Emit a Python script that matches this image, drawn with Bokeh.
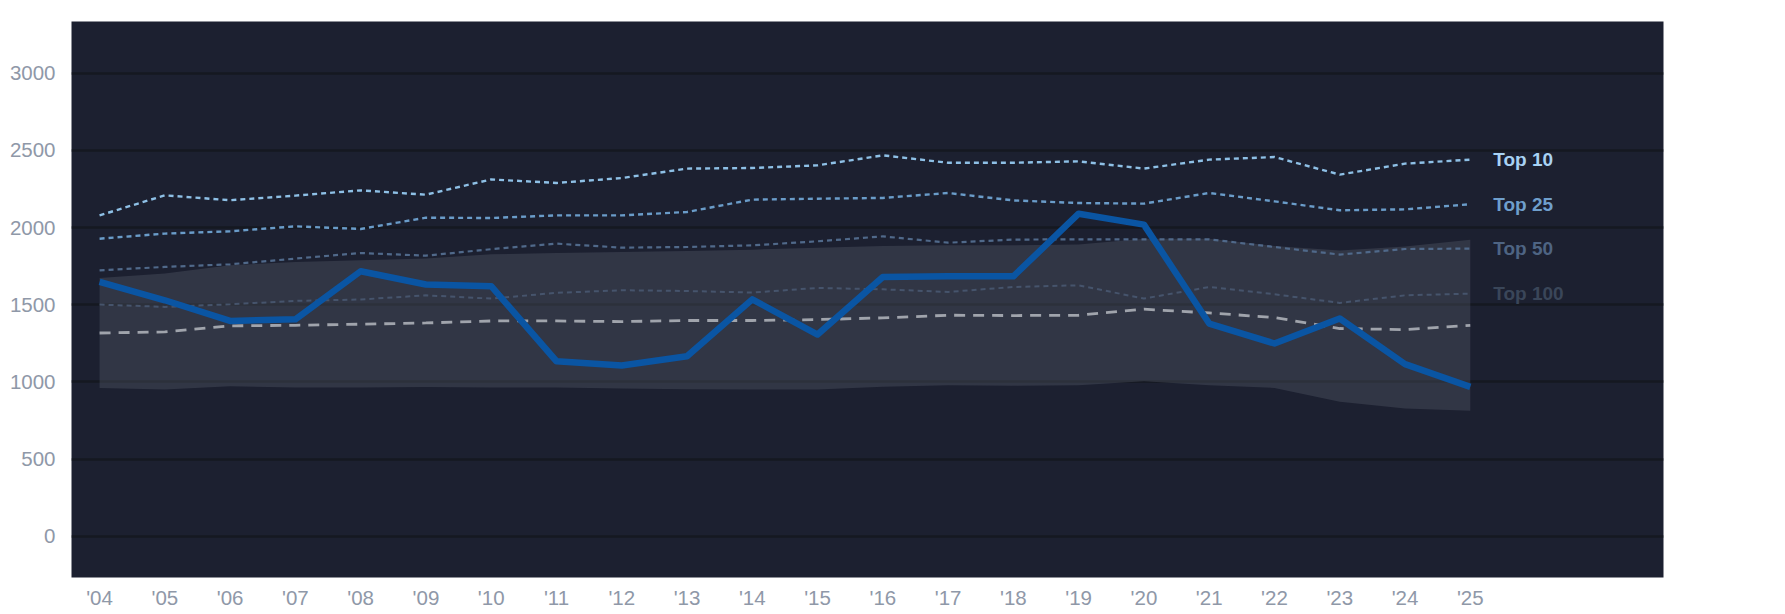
from bokeh.plotting import figure
from bokeh.models import FixedTicker, Range1d
from bokeh.core.properties import value
from bokeh.embed import file_html
from bokeh.resources import INLINE

years = list(range(2004, 2026))
tick_labels = ["'04", "'05", "'06", "'07", "'08", "'09", "'10", "'11", "'12", "'13", "'14",
               "'15", "'16", "'17", "'18", "'19", "'20", "'21", "'22", "'23", "'24", "'25"]

top10 = [2079, 2209, 2177, 2207, 2241, 2213, 2312, 2289, 2321, 2382, 2386,
         2403, 2468, 2420, 2420, 2429, 2382, 2440, 2457, 2343, 2414, 2440]
top25 = [1928, 1961, 1976, 2008, 1991, 2064, 2062, 2079, 2079, 2101, 2181,
         2187, 2192, 2224, 2176, 2159, 2155, 2224, 2170, 2112, 2118, 2151]
top50 = [1723, 1745, 1762, 1799, 1835, 1818, 1860, 1896, 1870, 1874, 1885,
         1911, 1943, 1902, 1922, 1924, 1924, 1924, 1874, 1825, 1861, 1864]
top100 = [1501, 1486, 1503, 1525, 1534, 1561, 1540, 1577, 1594, 1589, 1579,
          1609, 1600, 1583, 1615, 1626, 1540, 1615, 1568, 1512, 1561, 1572]
median = [1317, 1324, 1363, 1367, 1374, 1382, 1395, 1395, 1391, 1398, 1398,
          1404, 1415, 1432, 1430, 1432, 1471, 1447, 1417, 1346, 1339, 1367]
main = [1648, 1529, 1395, 1406, 1717, 1631, 1620, 1134, 1106, 1166, 1535,
        1307, 1680, 1684, 1684, 2090, 2019, 1378, 1249, 1411, 1115, 968]
band_hi = [1674, 1702, 1756, 1777, 1788, 1799, 1827, 1835, 1842, 1848, 1857,
           1870, 1881, 1885, 1885, 1890, 1928, 1928, 1880, 1851, 1877, 1921]
band_lo = [961, 951, 972, 964, 964, 967, 964, 964, 957, 953, 951,
           951, 968, 979, 975, 979, 1005, 979, 961, 871, 828, 813]

y_ticks = [0, 500, 1000, 1500, 2000, 2500, 3000]
label_names = ["Top 10", "Top 25", "Top 50", "Top 100"]

p = figure(frame_width=1592, frame_height=556,
           x_range=Range1d(2004 - 0.43, 2004 + 23.96),
           y_range=Range1d(-267, 3335),
           output_backend="svg", toolbar_location=None,
           min_border_left=71, min_border_top=21, min_border_right=106,
           min_border_bottom=5)

p.background_fill_color = "#1c2030"
p.border_fill_color = "#ffffff"
p.outline_line_color = None

p.xgrid.grid_line_color = None
p.ygrid.grid_line_color = "#151821"
p.ygrid.grid_line_width = 2.5
p.ygrid.ticker = FixedTicker(ticks=y_ticks)

p.yaxis.ticker = FixedTicker(ticks=y_ticks)
p.xaxis.ticker = FixedTicker(ticks=years)
p.xaxis.major_label_overrides = {y: lab for y, lab in zip(years, tick_labels)}
for ax in (p.xaxis, p.yaxis):
    ax.axis_line_color = None
    ax.major_tick_line_color = None
    ax.minor_tick_line_color = None
    ax.major_label_text_color = "#8f98a8"
    ax.major_label_text_font = "Liberation Sans"
    ax.major_label_text_font_size = "20.5px"
p.yaxis.major_label_standoff = 10
p.xaxis.major_label_standoff = 2

# band
p.varea(x=years, y1=band_lo, y2=band_hi, fill_color="#5a6070", fill_alpha=0.34)

series = [top100, top50, top25, top10]
line_cols = ["#46546c", "#50698a", "#6a9cc9", "#8ec0e6"]
widths = [2, 2.2, 2.4, 2.4]
for s, c, w in zip(series, line_cols, widths):
    p.line(years, s, line_color=c, line_width=w, line_dash="5 4")

p.line(years, median, line_color="#a0a4ac", line_width=2.8, line_dash="11 8")
p.line(years, main, line_color="#0a55a3", line_width=6.5, line_join="round")

label_cols = ["#a8d2f4", "#6f9fcc", "#4e6483", "#3a4659"]
label_vals = [top10[-1], top25[-1], top50[-1], top100[-1]]
p.text(x=[years[-1]] * 4, y=label_vals, text=label_names,
       text_color=label_cols, text_font=value("Liberation Sans"),
       text_font_style="bold", text_font_size="19px",
       text_baseline="middle", text_align="left", x_offset=23)

open("out.html", "w").write(file_html(p, INLINE))
